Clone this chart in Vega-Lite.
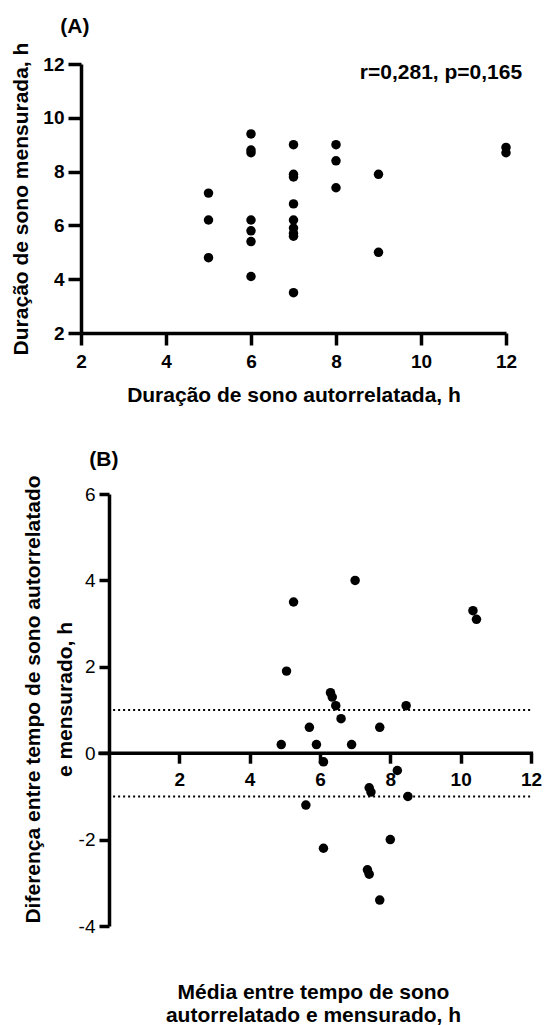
{
  "$schema": "https://vega.github.io/schema/vega-lite/v6.json",
  "padding": {"left": 10, "top": 15, "right": 4, "bottom": 0},
  "background": "white",
  "config": {
    "view": {"stroke": null},
    "font": "Liberation Sans",
    "axis": {
      "grid": false,
      "domainColor": "black",
      "tickColor": "black",
      "labelColor": "black",
      "titleColor": "black",
      "domainWidth": 3.5,
      "tickWidth": 3.5,
      "labelFont": "Liberation Sans",
      "titleFont": "Liberation Sans",
      "labelFontWeight": "bold",
      "labelFontSize": 19,
      "titleFontSize": 21,
      "titleFontWeight": "bold",
      "labelFlush": false
    },
    "text": {"font": "Liberation Sans"}
  },
  "bounds": "flush",
  "spacing": 161,
  "datasets": {
    "a": [
      {"autorrelatada": 5, "mensurada": 7.2},
      {"autorrelatada": 5, "mensurada": 6.2},
      {"autorrelatada": 5, "mensurada": 4.8},
      {"autorrelatada": 6, "mensurada": 9.4},
      {"autorrelatada": 6, "mensurada": 8.8},
      {"autorrelatada": 6, "mensurada": 8.7},
      {"autorrelatada": 6, "mensurada": 6.2},
      {"autorrelatada": 6, "mensurada": 5.8},
      {"autorrelatada": 6, "mensurada": 5.4},
      {"autorrelatada": 6, "mensurada": 4.1},
      {"autorrelatada": 7, "mensurada": 9.0},
      {"autorrelatada": 7, "mensurada": 7.9},
      {"autorrelatada": 7, "mensurada": 7.8},
      {"autorrelatada": 7, "mensurada": 6.8},
      {"autorrelatada": 7, "mensurada": 6.2},
      {"autorrelatada": 7, "mensurada": 5.9},
      {"autorrelatada": 7, "mensurada": 5.7},
      {"autorrelatada": 7, "mensurada": 5.6},
      {"autorrelatada": 7, "mensurada": 3.5},
      {"autorrelatada": 8, "mensurada": 9.0},
      {"autorrelatada": 8, "mensurada": 8.4},
      {"autorrelatada": 8, "mensurada": 7.4},
      {"autorrelatada": 9, "mensurada": 7.9},
      {"autorrelatada": 9, "mensurada": 5.0},
      {"autorrelatada": 12, "mensurada": 8.9},
      {"autorrelatada": 12, "mensurada": 8.7}
    ],
    "b": [
      {"media": 4.9, "diferenca": 0.2},
      {"media": 5.05, "diferenca": 1.9},
      {"media": 5.25, "diferenca": 3.5},
      {"media": 5.6, "diferenca": -1.2},
      {"media": 5.7, "diferenca": 0.6},
      {"media": 5.9, "diferenca": 0.2},
      {"media": 6.1, "diferenca": -0.2},
      {"media": 6.1, "diferenca": -2.2},
      {"media": 6.3, "diferenca": 1.4},
      {"media": 6.35, "diferenca": 1.3},
      {"media": 6.45, "diferenca": 1.1},
      {"media": 6.6, "diferenca": 0.8},
      {"media": 6.9, "diferenca": 0.2},
      {"media": 7.0, "diferenca": 4.0},
      {"media": 7.4, "diferenca": -0.8},
      {"media": 7.45, "diferenca": -0.9},
      {"media": 7.35, "diferenca": -2.7},
      {"media": 7.4, "diferenca": -2.8},
      {"media": 7.7, "diferenca": 0.6},
      {"media": 7.7, "diferenca": -3.4},
      {"media": 8.0, "diferenca": -2.0},
      {"media": 8.2, "diferenca": -0.4},
      {"media": 8.45, "diferenca": 1.1},
      {"media": 8.5, "diferenca": -1.0},
      {"media": 10.35, "diferenca": 3.3},
      {"media": 10.45, "diferenca": 3.1}
    ],
    "limites": [
      {"diferenca": 1},
      {"diferenca": -1}
    ]
  },
  "vconcat": [
    {
      "width": 425,
      "height": 269,
      "layer": [
        {
          "data": {"name": "a"},
          "mark": {"type": "circle", "size": 90, "opacity": 1, "color": "black"},
          "encoding": {
            "x": {
              "field": "autorrelatada",
              "type": "quantitative",
              "scale": {"domain": [2, 12], "nice": false, "zero": false},
              "axis": {
                "title": "Duração de sono autorrelatada, h",
                "values": [2, 4, 6, 8, 10, 12],
                "tickSize": 12,
                "labelPadding": 7,
                "titleBaseline": "alphabetic",
                "titleY": 68
              }
            },
            "y": {
              "field": "mensurada",
              "type": "quantitative",
              "scale": {"domain": [2, 12], "nice": false, "zero": false},
              "axis": {
                "title": "Duração de sono mensurada, h",
                "values": [2, 4, 6, 8, 10, 12],
                "tickSize": 13,
                "labelPadding": 4,
                "titleBaseline": "alphabetic",
                "titleX": -53.7
              }
            }
          }
        },
        {
          "data": {"values": [{"rotulo": "r=0,281, p=0,165"}]},
          "mark": {"type": "text", "align": "right", "baseline": "middle", "fontSize": 21, "fontWeight": "bold", "color": "black"},
          "encoding": {
            "x": {"datum": 12.38},
            "y": {"datum": 11.67},
            "text": {"field": "rotulo"}
          }
        },
        {
          "data": {"values": [{"rotulo": "(A)"}]},
          "mark": {"type": "text", "align": "left", "baseline": "middle", "fontSize": 21, "fontWeight": "bold", "color": "black"},
          "encoding": {
            "x": {"datum": 1.513},
            "y": {"datum": 13.39},
            "text": {"field": "rotulo"}
          }
        }
      ]
    },
    {
      "width": 450,
      "height": 432,
      "layer": [
        {
          "data": {"name": "b"},
          "mark": {"type": "circle", "size": 90, "opacity": 1, "color": "black"},
          "encoding": {
            "x": {
              "field": "media",
              "type": "quantitative",
              "scale": {"domain": [-0.793, 12], "nice": false, "zero": false},
              "axis": {
                "title": ["Média entre tempo de sono", "autorrelatado e mensurado, h"],
                "values": [2, 4, 6, 8, 10, 12],
                "offset": -172.8,
                "domain": false,
                "tickSize": 10,
                "labelPadding": 7,
                "titleBaseline": "alphabetic",
                "titleX": 232,
                "titleY": 245,
                "titleLineHeight": 23.5
              }
            },
            "y": {
              "field": "diferenca",
              "type": "quantitative",
              "scale": {"domain": [-4, 6], "nice": false, "zero": false},
              "axis": {
                "title": ["Diferença entre tempo de sono autorrelatado", "e mensurado, h"],
                "values": [-4, -2, 0, 2, 4, 6],
                "offset": -28,
                "tickSize": 10,
                "labelPadding": 4,
                "labelFontWeight": "normal",
                "labelExpr": "datum.value < 0 ? '-' + abs(datum.value) : '' + datum.value",
                "titleBaseline": "alphabetic",
                "titleX": -70,
                "titleY": 205,
                "titleLineHeight": 32
              }
            }
          }
        },
        {
          "data": {"values": [{}]},
          "mark": {"type": "rule", "strokeWidth": 3.5, "color": "black"},
          "encoding": {
            "x": {"datum": -0.3},
            "x2": {"datum": 12.06},
            "y": {"datum": 0}
          }
        },
        {
          "data": {"name": "limites"},
          "mark": {"type": "rule", "strokeWidth": 2, "strokeDash": [2, 3], "color": "black"},
          "encoding": {
            "x": {"datum": 0.12},
            "x2": {"datum": 12},
            "y": {"field": "diferenca", "type": "quantitative"}
          }
        },
        {
          "data": {"values": [{"rotulo": "(B)"}]},
          "mark": {"type": "text", "align": "left", "baseline": "middle", "fontSize": 21, "fontWeight": "bold", "color": "black"},
          "encoding": {
            "x": {"datum": -0.557},
            "y": {"datum": 6.78},
            "text": {"field": "rotulo"}
          }
        }
      ]
    }
  ]
}
